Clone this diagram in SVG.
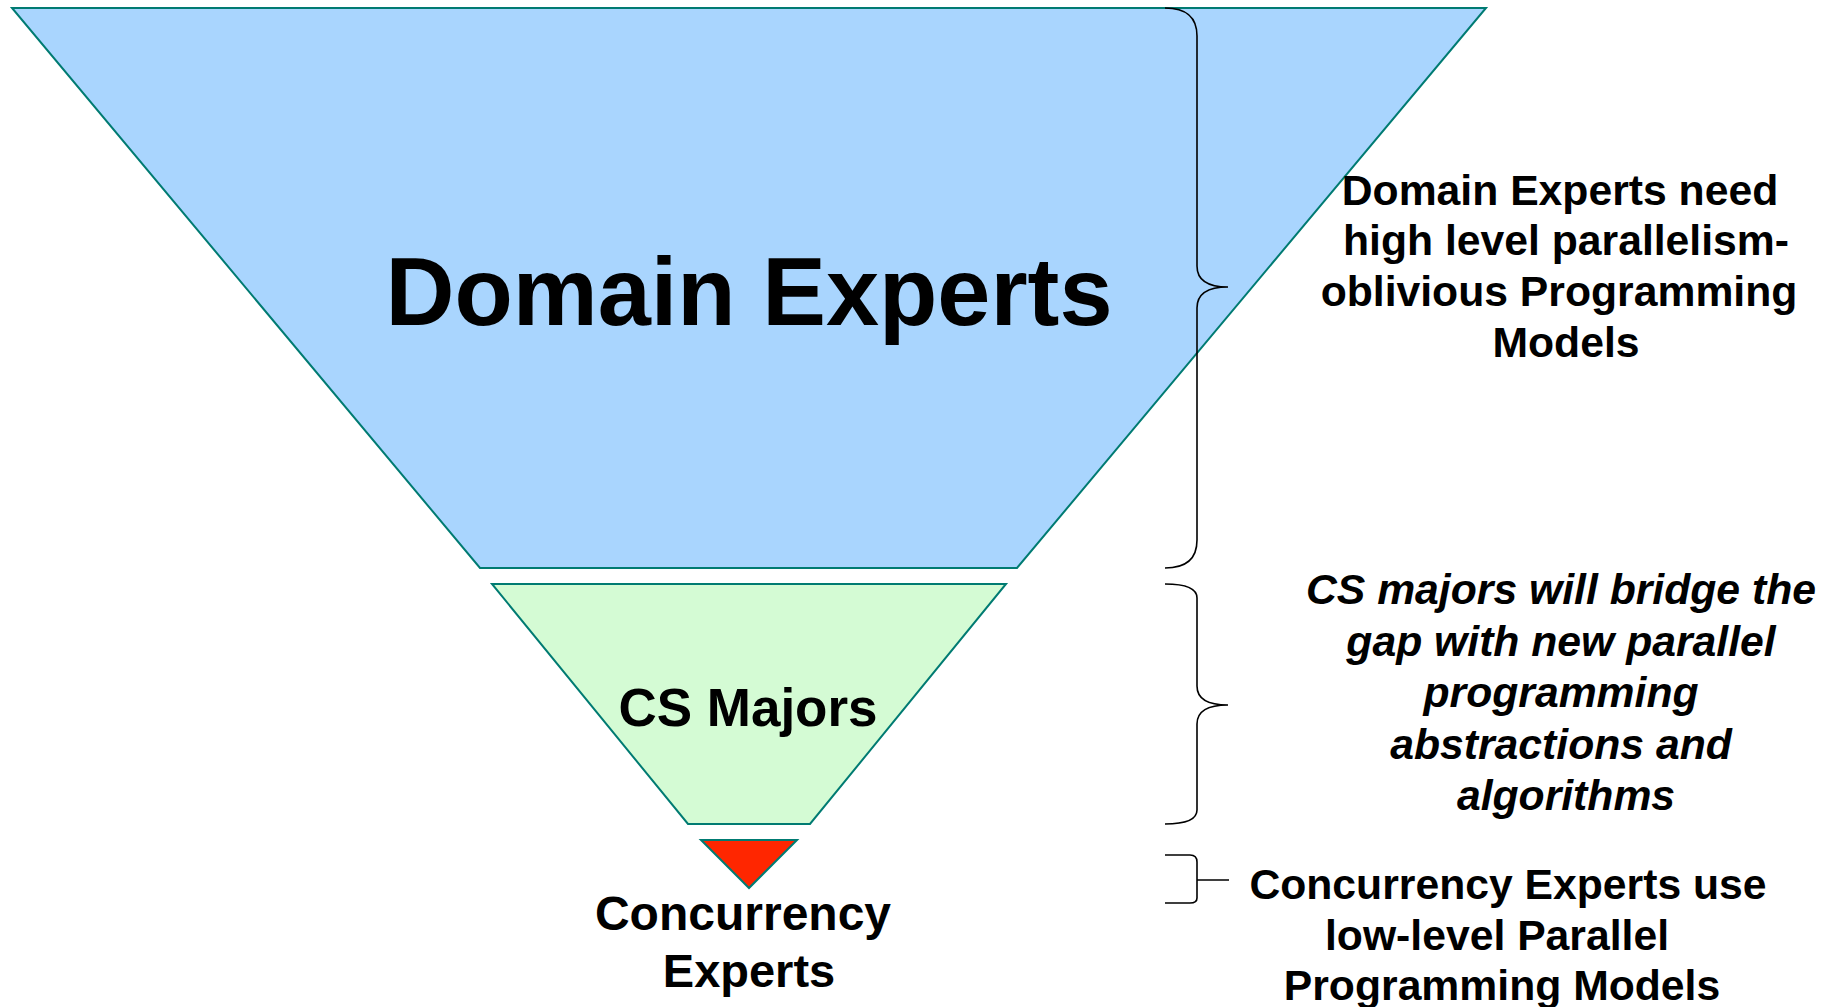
<svg xmlns="http://www.w3.org/2000/svg" width="1837" height="1007" viewBox="0 0 1837 1007">
<style>
.tier{stroke:#007b72;stroke-width:2;stroke-linejoin:miter}
.lbl{font-family:"Liberation Sans",Arial,sans-serif;font-weight:bold;fill:#000;text-anchor:middle}
.note{font-family:"Liberation Sans",Arial,sans-serif;font-weight:bold;font-size:42.7px;fill:#000;text-anchor:middle}
.it{font-style:italic}
.brace{fill:none;stroke:#000;stroke-width:1.6}
</style>
<rect width="1837" height="1007" fill="#fff"/>
<g id="domain-experts">
<polygon class="tier" points="12,8 1486,8 1017,568 480,568" fill="#A9D5FE"/>
<text class="lbl" x="749" y="325" font-size="95.5">Domain Experts</text>
</g>
<g id="cs-majors">
<polygon class="tier" points="492,584 1006,584 810,824 688,824" fill="#D4FBD4"/>
<text class="lbl" x="748" y="726" font-size="53">CS Majors</text>
</g>
<g id="concurrency-experts">
<polygon class="tier" points="701,840 797,840 749,888" fill="#FF2600"/>
<text class="lbl" x="743" y="930" font-size="48">Concurrency</text>
<text class="lbl" x="749" y="987" font-size="47">Experts</text>
</g>
<g id="connectors">
<path class="brace" d="M1165,8 Q1197,8 1197,36 L1197,266 Q1197,287 1228,287 Q1197,287 1197,308 L1197,540 Q1197,568 1165,568"/>
<path class="brace" d="M1165,584 Q1197,584 1197,598 L1197,686 Q1197,705 1228,705 Q1197,705 1197,724 L1197,810 Q1197,824 1165,824"/>
<path class="brace" d="M1165,855 L1190,855 Q1197,855 1197,862 L1197,898 Q1197,903 1190,903 L1165,903 M1197,880 L1229,880"/>
</g>
<g id="note-domain">
<text class="note" x="1560" y="205">Domain Experts need</text>
<text class="note" x="1566" y="255">high level parallelism-</text>
<text class="note" x="1559" y="306">oblivious Programming</text>
<text class="note" x="1566" y="357">Models</text>
</g>
<g id="note-cs">
<text class="note it" x="1561" y="604">CS majors will bridge the</text>
<text class="note it" x="1561" y="656">gap with new parallel</text>
<text class="note it" x="1561" y="707">programming</text>
<text class="note it" x="1561" y="759">abstractions and</text>
<text class="note it" x="1566" y="810">algorithms</text>
</g>
<g id="note-concurrency">
<text class="note" x="1508" y="899">Concurrency Experts use</text>
<text class="note" x="1497" y="950">low-level Parallel</text>
<text class="note" x="1502" y="1000">Programming Models</text>
</g>
</svg>
